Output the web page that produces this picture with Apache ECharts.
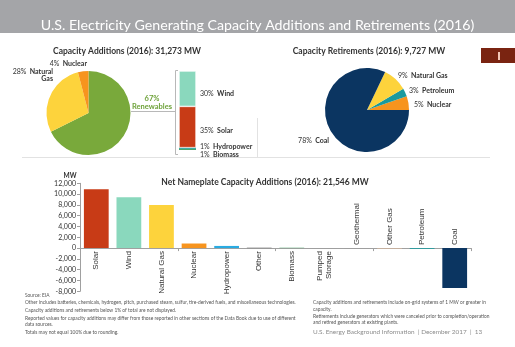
<!DOCTYPE html>
<html>
<head>
<meta charset="utf-8">
<script src="https://cdn.jsdelivr.net/npm/echarts@6/dist/echarts.min.js"></script>
<style>
  html, body { margin: 0; padding: 0; background: #fff; }
  #chart { width: 515px; height: 347px; }
</style>
</head>
<body>
<div id="chart"></div>
<script>
// Capacity additions by source, share of 31,273 MW (%)
const addNames = ['Renewables', 'Natural Gas', 'Nuclear'];
const addShares = [67, 28, 4];

// Renewable additions breakdown (%), stacked from the bottom up
const renewNames = ['Biomass', 'Hydropower', 'Solar', 'Wind'];
const renewShares = [1, 1, 35, 30];

// Capacity retirements by source, share of 9,727 MW (%)
const retNames = ['Nuclear', 'Petroleum', 'Natural Gas', 'Coal'];
const retShares = [5, 3, 9, 78];

// Net nameplate capacity additions (MW)
const netNames = ['Solar', 'Wind', 'Natural Gas', 'Nuclear', 'Hydropower', 'Other',
  'Biomass', 'Pumped\nStorage', 'Geothermal', 'Other Gas', 'Petroleum', 'Coal'];
const netValues = [10900, 9400, 8000, 850, 400, 70, 70, 10, -40, -80, -150, -7400];

// Value axis range (MW)
const yMin = -8000, yMax = 12000, yStep = 2000;

// Footnotes: [text, x, y]
const notes = [
  ['Source: EIA', 25, 295],
  ['Other includes batteries, chemicals, hydrogen, pitch, purchased steam, sulfur, tire-derived fuels, and miscellaneous technologies.', 25, 302.7],
  ['Capacity additions and retirements below 1% of total are not displayed.', 25, 310],
  ['Reported values for capacity additions may differ from those reported in other sections of the Data Book due to use of different', 25, 318],
  ['data sources.', 25, 324.3],
  ['Totals may not equal 100% due to rounding.', 25, 332.7],
  ['Capacity additions and retirements include on-grid systems of 1 MW or greater in', 313, 302.7],
  ['capacity.', 313, 309],
  ['Retirements include generators which were canceled prior to completion/operation', 313, 316.3],
  ['and retired generators at existing plants.', 313, 322.7]
];

const FONT = 'Lato';
const DARK = '#333333';
const COLORS = {
  'Renewables': '#79a93b', 'Natural Gas': '#fdd33c', 'Nuclear': '#f7941e',
  'Wind': '#8ad8bd', 'Solar': '#c83b16', 'Hydropower': '#1d9e9c', 'Biomass': '#4ea46c',
  'Petroleum': '#1a9a9e', 'Coal': '#0b3561'
};
const BAR_COLORS = ['#c83b16', '#8ad8bd', '#fdd33c', '#f7941e', '#29abe2', '#555555',
  '#4ea46c', '#9a9a9a', '#9a9a9a', '#f4c39b', '#1a9a9e', '#0b3561'];

// label anchors for the pie slices
const addLabelPos = [null, { x: 53, y: 75, align: 'right' }, { x: 87, y: 64, align: 'right' }];
const retLabelPos = [
  { x: 414, y: 105, align: 'left' }, { x: 409, y: 91, align: 'left' },
  { x: 398, y: 76, align: 'left' }, { x: 329, y: 141, align: 'right' }
];
// vertical nudge for the renewable breakdown labels
const renewLabelShift = [5, -1, 4, 5];

const pctRich = {
  p: { fontFamily: FONT, fontSize: 7, color: DARK },
  n: { fontFamily: FONT, fontSize: 7, fontWeight: 'bold', color: DARK }
};

const chart = echarts.init(document.getElementById('chart'), null, { renderer: 'canvas' });

const renewSeries = renewNames.map((name, i) => ({
  type: 'bar',
  name: name,
  stack: 'renew',
  xAxisIndex: 0, yAxisIndex: 0,
  barWidth: '100%',
  data: [renewShares[i]],
  itemStyle: {
    color: COLORS[name],
    borderColor: '#fff',
    borderWidth: renewShares[i] > 5 ? 0.6 : 0
  },
  label: {
    show: true,
    position: 'right',
    distance: 4,
    offset: [0, renewLabelShift[i]],
    formatter: '{p|' + renewShares[i] + '%} {n|' + name + '}',
    rich: pctRich
  },
  silent: true
}));

const noteGraphics = notes.map(([t, x, y]) => ({
  type: 'text', x: x, y: y,
  style: { text: t, verticalAlign: 'middle', fill: '#555', fontFamily: FONT, fontSize: 4.85 }
}));

const option = {
  animation: false,
  title: [
    {
      text: 'U.S. Electricity Generating Capacity Additions and Retirements (2016)',
      left: 'center', top: 13,
      textStyle: { color: '#ffffff', fontFamily: FONT, fontSize: 14.2, fontWeight: 'normal' }
    },
    {
      text: 'Capacity Additions (2016): 31,273 MW',
      left: 122, top: 42, textAlign: 'center',
      textStyle: { color: DARK, fontFamily: FONT, fontSize: 8.5, fontWeight: 'bold' }
    },
    {
      text: 'Capacity Retirements (2016): 9,727 MW',
      left: 364, top: 42, textAlign: 'center',
      textStyle: { color: DARK, fontFamily: FONT, fontSize: 8.5, fontWeight: 'bold' }
    },
    {
      text: 'Net Nameplate Capacity Additions (2016): 21,546 MW',
      left: 260, top: 173, textAlign: 'center',
      textStyle: { color: DARK, fontFamily: FONT, fontSize: 8.5, fontWeight: 'bold' }
    }
  ],
  graphic: [
    { type: 'rect', shape: { x: 0, y: 0, width: 515, height: 33 }, style: { fill: '#a4a5a8' }, z: -1 },
    { type: 'rect', shape: { x: 481, y: 48, width: 34, height: 15 }, style: { fill: '#7a2411' } },
    { type: 'rect', shape: { x: 498, y: 52, width: 2, height: 8 }, style: { fill: '#f3c6b6' } },
    { type: 'line', shape: { x1: 22, y1: 157.5, x2: 490, y2: 157.5 }, style: { stroke: '#e2e2e2', lineWidth: 1 } },
    { type: 'line', shape: { x1: 257.5, y1: 118, x2: 257.5, y2: 157 }, style: { stroke: '#e2e2e2', lineWidth: 1 } },
    // connector from the pie to the renewables breakdown
    { type: 'line', shape: { x1: 131, y1: 111.5, x2: 175, y2: 111.5 }, style: { stroke: '#b8b8b8', lineWidth: 1 } },
    { type: 'polyline', shape: { points: [[178, 70.5], [175.5, 70.5], [175.5, 154.5], [178, 154.5]] },
      style: { stroke: '#b8b8b8', lineWidth: 1, fill: null } },
    { type: 'text', x: 152, y: 103, style: {
        text: '67%\nRenewables', align: 'center', verticalAlign: 'middle',
        fill: '#6ea23a', fontFamily: FONT, fontSize: 7.5, fontWeight: 'bold', lineHeight: 8 } },
    { type: 'text', x: 70, y: 176, style: {
        text: 'MW', align: 'center', verticalAlign: 'middle',
        fill: DARK, fontFamily: FONT, fontSize: 6.5, fontWeight: 'bold' } },
    ...noteGraphics,
    { type: 'text', x: 313, y: 332, style: {
        text: 'U.S. Energy Background Information  | December 2017  |  13',
        verticalAlign: 'middle', fill: '#8c8c8c', fontFamily: FONT, fontSize: 6.4 } }
  ],
  grid: [
    { left: 179, top: 71, width: 17, height: 79 },
    { left: 80, right: 44, top: 183.3, bottom: 55.7 }
  ],
  xAxis: [
    { gridIndex: 0, type: 'category', data: ['Renewables'], show: false },
    {
      gridIndex: 1, type: 'category', data: netNames,
      axisLine: { onZero: true, lineStyle: { color: '#a0a0a0', width: 1 } },
      axisTick: { show: true, length: 3, inside: false, lineStyle: { color: '#a0a0a0' } },
      axisLabel: { show: false }
    }
  ],
  yAxis: [
    { gridIndex: 0, type: 'value', min: 0, max: 67, show: false },
    {
      gridIndex: 1, type: 'value', min: yMin, max: yMax, interval: yStep,
      axisLine: { show: true, lineStyle: { color: '#a0a0a0', width: 1 } },
      axisTick: { show: true, length: 3, lineStyle: { color: '#a0a0a0' } },
      splitLine: { show: false },
      axisLabel: {
        margin: 4, fontFamily: FONT, fontSize: 7, color: DARK,
        formatter: v => v.toLocaleString('en-US')
      }
    }
  ],
  series: [
    {
      type: 'pie',
      name: 'Capacity Additions',
      center: [88.5, 113], radius: 42,
      startAngle: 90, clockwise: true,
      avoidLabelOverlap: false,
      data: addNames.map((n, i) => ({
        name: n, value: addShares[i],
        itemStyle: { color: COLORS[n] },
        label: { show: i > 0 }
      })),
      label: {
        position: 'outside',
        formatter: p => p.dataIndex === 1
          ? '{p|' + p.value + '%} {n|Natural}\n{n|Gas}'
          : '{p|' + p.value + '%} {n|' + p.name + '}',
        rich: pctRich, lineHeight: 7
      },
      labelLine: { show: false },
      labelLayout: p => {
        const a = addLabelPos[p.dataIndex];
        return a ? { x: a.x, y: a.y, align: a.align, verticalAlign: 'middle' } : {};
      },
      silent: true
    },
    {
      type: 'pie',
      name: 'Capacity Retirements',
      center: [367, 110], radius: 42,
      startAngle: 0, clockwise: false,
      avoidLabelOverlap: false,
      data: retNames.map((n, i) => ({
        name: n, value: retShares[i], itemStyle: { color: COLORS[n] }
      })),
      label: {
        position: 'outside',
        formatter: p => '{p|' + p.value + '%} {n|' + p.name + '}',
        rich: pctRich
      },
      labelLine: { show: false },
      labelLayout: p => {
        const a = retLabelPos[p.dataIndex];
        return { x: a.x, y: a.y, align: a.align, verticalAlign: 'middle' };
      },
      silent: true
    },
    ...renewSeries,
    {
      type: 'bar',
      name: 'Net Additions',
      xAxisIndex: 1, yAxisIndex: 1,
      barWidth: '76%',
      data: netValues.map((v, i) => ({
        value: v,
        itemStyle: { color: BAR_COLORS[i] },
        label: v >= 0
          ? { position: 'bottom', align: 'right' }
          : { position: 'top', align: 'left' }
      })),
      label: {
        show: true,
        formatter: '{b}',
        rotate: 90,
        distance: 3,
        verticalAlign: 'middle',
        fontFamily: 'Liberation Sans',
        fontSize: 8,
        lineHeight: 8.5,
        color: DARK
      },
      silent: true
    }
  ]
};

chart.setOption(option);
</script>
</body>
</html>
